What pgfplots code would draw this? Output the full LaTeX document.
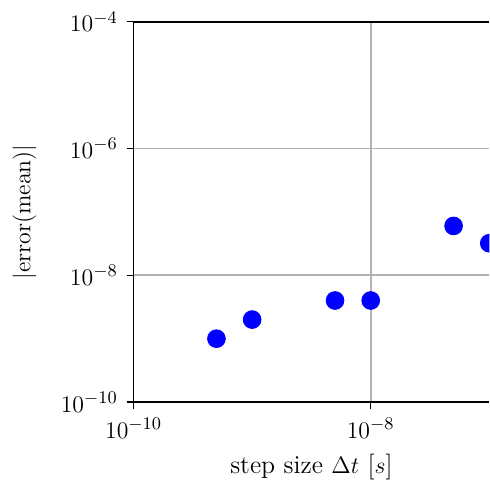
\documentclass[border=0pt]{standalone}
\usepackage{pgfplots}
\pgfplotsset{compat=1.18}
\begin{document}
\fontsize{13}{15}\selectfont
\begin{tikzpicture}
\begin{scope}
\clip (-300pt,-300pt) rectangle (179.5pt,400pt);
\begin{axis}[
  at={(0,0)}, anchor=south west,
  scale only axis,
  width=179.5pt, height=192pt,
  xmode=log, ymode=log,
  xmin=1e-10, xmax=1e-7,
  ymin=1e-10, ymax=1e-4,
  axis x line*=bottom, axis y line*=left,
  axis line style={line width=0.9pt, -},
  xtick={1e-10,1e-8}, ytick={1e-10,1e-8,1e-6,1e-4},
  minor tick num=0, minor xtick={}, minor ytick={},
  tick align=outside, major tick length=3.5pt,
  every tick/.style={black, line width=0.7pt},
  grid=major, major grid style={gray!60, line width=0.8pt},
  tick label style={font=\fontsize{13}{15}\selectfont},
  label style={font=\fontsize{13}{15}\selectfont},
  xlabel={step size $\Delta t$ [$s$]},
  ylabel={$|\mathrm{error}(\mathrm{mean})|$},
  xlabel style={yshift=1pt},
  ylabel shift=3.5pt,
]
\addplot[only marks, mark=*, mark size=4.5pt, color=blue, mark options={draw=blue, fill=blue}]
  coordinates {(5e-10,1e-9) (1e-9,2e-9) (5e-9,4e-9) (1e-8,4e-9) (5e-8,6e-8) (1e-7,3.2e-8)};
\draw[line width=0.9pt] (rel axis cs:0,1) -- (rel axis cs:1,1);
\end{axis}
\end{scope}
\pgfresetboundingbox
\path ([xshift=-2pt,yshift=-2pt]current axis.outer south west) rectangle ([yshift=1.5pt]current axis.north east |- current axis.outer north);
\end{tikzpicture}
\end{document}
